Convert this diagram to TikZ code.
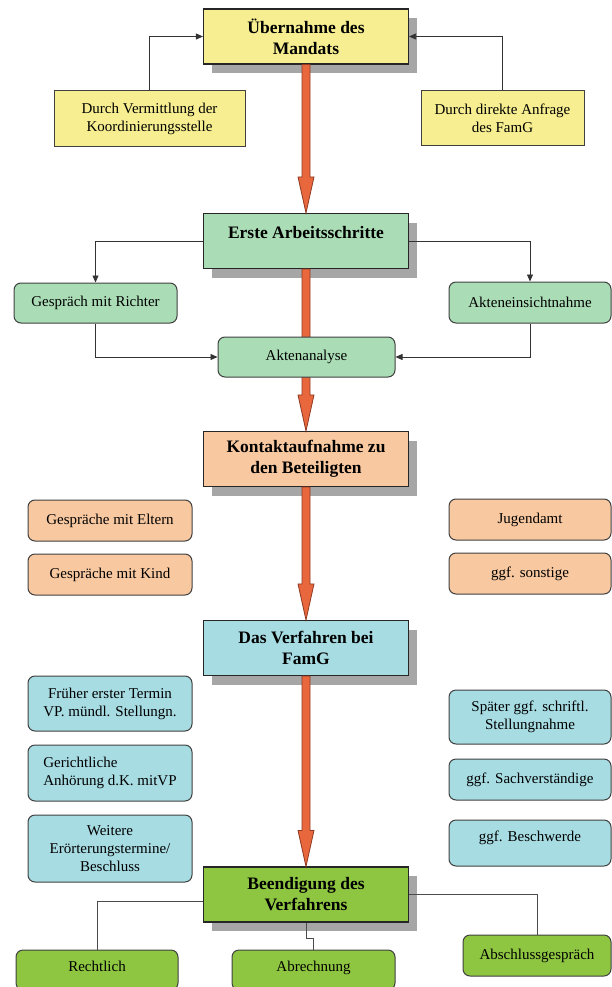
\documentclass[tikz,border=0pt]{standalone}
\usepackage{fontspec}
\setmainfont{Liberation Serif}
\usetikzlibrary{arrows.meta,shadows}

\definecolor{mandat}{HTML}{F6EE90}
\definecolor{arbeit}{HTML}{AADDB5}
\definecolor{kontakt}{HTML}{F8C8A0}
\definecolor{verfahren}{HTML}{A7DCE3}
\definecolor{ende}{HTML}{8EC641}
\definecolor{flowred}{HTML}{E8673D}
\definecolor{flowdark}{HTML}{8E3A22}

% dicker roter Pfeil zwischen zwei Hauptkaesten
\newcommand\flowarrow[2]{%
  \draw[bigarrow] ([xshift=-4pt]#1.south) -- ([xshift=-4pt,yshift=36pt]#2.north)
    -- ([xshift=-8pt,yshift=36pt]#2.north) -- (#2.north)
    -- ([xshift=8pt,yshift=36pt]#2.north) -- ([xshift=4pt,yshift=36pt]#2.north)
    -- ([xshift=4pt]#1.south) -- cycle;}

\begin{document}
\begin{tikzpicture}[x=1pt, y=-1pt,
    main/.style={draw=black!85, line width=1.1pt, align=center, inner sep=2pt,
      minimum width=205pt, minimum height=55pt,
      font=\fontsize{17.5}{21}\selectfont\bfseries,
      general shadow={fill=black!35, shadow xshift=8pt, shadow yshift=-9pt}},
    side/.style={draw=black!75, line width=1pt, align=center, inner sep=2pt,
      rounded corners=7pt, font=\fontsize{15}{18}\selectfont},
    box/.style 2 args={minimum width=#1pt, minimum height=#2pt},
    link/.style={draw=black!80, line width=0.8pt, -{Triangle[width=6pt,length=7pt]}},
    tie/.style={draw=black!70, line width=0.8pt},
    bigarrow/.style={fill=flowred, draw=flowdark, line width=0.8pt}]
  \useasboundingbox (0,0) rectangle (612,987);

  % Hauptschritte
  \node[main, fill=mandat] (mandat) at (306,36.5) {Übernahme des\\Mandats};
  \node[main, fill=arbeit, text depth=18pt] (arbeit) at (306,241) {Erste Arbeitsschritte};
  \node[main, fill=kontakt] (kontakt) at (306,459) {Kontaktaufnahme zu\\den Beteiligten};
  \node[main, fill=verfahren] (verfahren) at (306,648) {Das Verfahren bei\\FamG};
  \node[main, fill=ende] (ende) at (306,894.5) {Beendigung des\\Verfahrens};

  \flowarrow{mandat}{arbeit}
  \flowarrow{arbeit}{kontakt}
  \flowarrow{kontakt}{verfahren}
  \flowarrow{verfahren}{ende}

  % Uebernahme
  \node[side, sharp corners, fill=mandat, box={191}{56}] (vermittlung) at (149.5,119) {Durch Vermittlung der\\Koordinierungsstelle};
  \node[side, sharp corners, fill=mandat, box={163}{55}] (anfrage) at (502.5,118.5) {Durch direkte Anfrage\\des FamG};
  \draw[link] (vermittlung.north) |- (mandat.west);
  \draw[link] (anfrage.north) |- (mandat.east);

  % Arbeitsschritte
  \node[side, fill=arbeit, box={163}{40}] (richter) at (95.5,303) {Gespräch mit Richter};
  \node[side, fill=arbeit, box={162}{41}] (einsicht) at (530,302.5) {Akteneinsichtnahme};
  \node[side, fill=arbeit, box={177}{40}] (analyse) at (306.5,357) {Aktenanalyse};
  \draw[link] (arbeit.west) -| (richter.north);
  \draw[link] (arbeit.east) -| (einsicht.north);
  \draw[link] (richter.south) |- (analyse.west);
  \draw[link] (einsicht.south) |- (analyse.east);

  % Kontakt
  \node[side, fill=kontakt, box={164}{41}] (eltern) at (110,520.5) {Gespräche mit Eltern};
  \node[side, fill=kontakt, box={164}{41}] (kind) at (110,574.5) {Gespräche mit Kind};
  \node[side, fill=kontakt, box={162}{41}] (jugendamt) at (530,519.5) {Jugendamt};
  \node[side, fill=kontakt, box={162}{41}] (sonstige) at (530,573.5) {ggf. sonstige};

  % Verfahren
  \node[side, fill=verfahren, box={164}{55}] (termin) at (110,703.5) {Früher erster Termin\\VP. mündl. Stellungn.};
  \node[side, fill=verfahren, box={164}{56}, align=left] (anhoerung) at (110,773) {Gerichtliche\\Anhörung d.K. mitVP};
  \node[side, fill=verfahren, box={164}{67}] (weitere) at (110,848.5) {Weitere\\Erörterungstermine/\\Beschluss};
  \node[side, fill=verfahren, box={162}{54}] (spaeter) at (530,717) {Später ggf. schriftl.\\Stellungnahme};
  \node[side, fill=verfahren, box={162}{41}] (gutachter) at (530,779.5) {ggf. Sachverständige};
  \node[side, fill=verfahren, box={162}{46}, text depth=14pt] (beschwerde) at (530,843) {ggf. Beschwerde};

  % Beendigung
  \node[side, fill=ende, box={162}{40}, text depth=8pt] (rechtlich) at (97,970) {Rechtlich};
  \node[side, fill=ende, box={163}{40}, text depth=8pt] (abrechnung) at (313.5,970) {Abrechnung};
  \node[side, fill=ende, box={148}{41}] (abschluss) at (537,955.5) {Abschlussgespräch};
  \draw[tie] ([yshift=-7pt]ende.west) -| (rechtlich.north);
  \draw[tie] (ende.south) -- ++(0,16) -| (abrechnung.north);
  \draw[tie] (ende.east) -| (abschluss.north);
\end{tikzpicture}
\end{document}
